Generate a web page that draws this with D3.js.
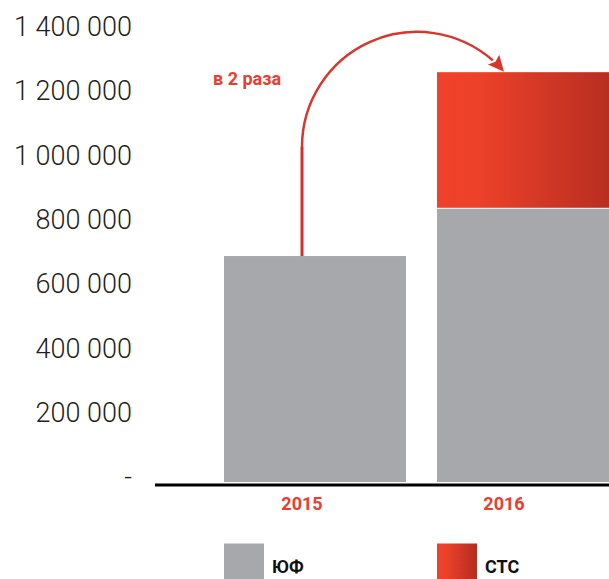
<!DOCTYPE html>
<html>
<head>
<meta charset="utf-8">
<script src="https://cdn.jsdelivr.net/npm/d3@7/dist/d3.min.js"></script>
<style>
  html, body { margin: 0; padding: 0; background: #fff; }
  svg { display: block; }
</style>
</head>
<body>
<script>
// Data
const years = ["2015", "2016"];
const yfValues = [703000, 850000];   // ЮФ
const stsValues = [0, 425000];        // СТС
const tickValues = [0, 200000, 400000, 600000, 800000, 1000000, 1200000, 1400000];
const legendLabels = ["ЮФ", "СТС"];
const growthLabel = "в 2 раза";

const W = 609, H = 579;
const GREY = "#a7a8ac";
const RED = "#ee3b2e";
const ARC = "#d8352b";

const svg = d3.select("body").append("svg").attr("width", W).attr("height", H);

const defs = svg.append("defs");
const grad = defs.append("linearGradient").attr("id", "stsGrad")
  .attr("x1", "0%").attr("x2", "100%").attr("y1", "0%").attr("y2", "0%");
grad.append("stop").attr("offset", "0%").attr("stop-color", "#f0422b");
grad.append("stop").attr("offset", "22%").attr("stop-color", "#ed412a");
grad.append("stop").attr("offset", "100%").attr("stop-color", "#b42d20");

// Scales
const y = d3.scaleLinear().domain([0, 1400000]).range([482, 32]);
const x = d3.scaleBand().domain(years).range([224, 619]).paddingInner(0.1455).paddingOuter(0);
const xLabel = d3.scalePoint().domain(years).range([302, 504]);

// Y axis labels
const fmt = v => v === 0 ? "-" : d3.format(",")(v).replace(/,/g, " ");
const yAxis = d3.axisLeft(y).tickValues(tickValues).tickFormat(fmt).tickSize(0).tickPadding(0);
const gy = svg.append("g").attr("transform", "translate(132,-5)").call(yAxis);
gy.select(".domain").remove();
gy.selectAll("text")
  .attr("font-family", "Roboto")
  .attr("font-weight", 300)
  .attr("font-size", 27)
  .attr("fill", "#231f20");

// Bars
const bars = svg.append("g");
years.forEach((yr, i) => {
  bars.append("rect")
    .attr("x", x(yr)).attr("width", x.bandwidth())
    .attr("y", y(yfValues[i])).attr("height", y(0) - y(yfValues[i]))
    .attr("fill", GREY);
  if (stsValues[i] > 0) {
    const top = y(yfValues[i] + stsValues[i]);
    bars.append("rect")
      .attr("x", x(yr)).attr("width", x.bandwidth())
      .attr("y", top).attr("height", y(yfValues[i]) - top - 1)
      .attr("fill", "url(#stsGrad)");
  }
});

// Baseline
svg.append("line")
  .attr("x1", 155).attr("x2", W)
  .attr("y1", y(0) + 3).attr("y2", y(0) + 3)
  .attr("stroke", "#000").attr("stroke-width", 3);

// Category labels
svg.append("g").selectAll("text").data(years).join("text")
  .attr("x", d => xLabel(d)).attr("y", 510)
  .attr("text-anchor", "middle")
  .attr("font-family", "Roboto").attr("font-weight", 700).attr("font-size", 18)
  .attr("fill", RED)
  .text(d => d);

// Growth arrow: vertical stem from the 2015 bar, then a circular arc to the 2016 total
const x0 = xLabel(years[0]);
const r = 115;
const cx = x0 + r;
const tipX = 504, tipY = y(yfValues[1] + stsValues[1]) - 0.5;
const cy = tipY + Math.sqrt(r * r - (tipX - cx) * (tipX - cx));
const tipAngle = Math.atan2(tipY - cy, tipX - cx);
const dir = [-Math.sin(tipAngle), Math.cos(tipAngle)];
const headLen = 16, headHalf = 7.5;
const baseX = tipX - dir[0] * headLen, baseY = tipY - dir[1] * headLen;
const endAngle = Math.atan2(baseY - cy, baseX - cx);

svg.append("line")
  .attr("x1", x0).attr("x2", x0)
  .attr("y1", y(yfValues[0])).attr("y2", cy)
  .attr("stroke", "#d3312a").attr("stroke-width", 3);

const arcPath = d3.path();
arcPath.moveTo(x0, cy);
arcPath.arc(cx, cy, r, Math.PI, 2 * Math.PI + endAngle, false);
svg.append("path").attr("d", arcPath.toString())
  .attr("fill", "none").attr("stroke", ARC).attr("stroke-width", 2.5);

const nx = -dir[1], ny = dir[0];
svg.append("path")
  .attr("d", `M${tipX},${tipY} L${baseX + nx * headHalf},${baseY + ny * headHalf} L${baseX - dir[0]*-3},${baseY - dir[1]*-3} L${baseX - nx * headHalf},${baseY - ny * headHalf} Z`)
  .attr("fill", ARC);

svg.append("text")
  .attr("x", 213).attr("y", 85)
  .attr("font-family", "Roboto").attr("font-weight", 700).attr("font-size", 18)
  .attr("fill", RED)
  .text(growthLabel);

// Legend
const legendFills = [GREY, "url(#stsGrad)"];
const lg = svg.append("g");
legendLabels.forEach((lab, i) => {
  const lx = x(years[i]);
  lg.append("rect").attr("x", lx).attr("y", 543.5).attr("width", 40).attr("height", 40)
    .attr("fill", legendFills[i]);
  lg.append("text").attr("x", lx + 48).attr("y", 573)
    .attr("font-family", "Roboto").attr("font-weight", 700).attr("font-size", 18)
    .attr("fill", "#111")
    .text(lab);
});
</script>
</body>
</html>
